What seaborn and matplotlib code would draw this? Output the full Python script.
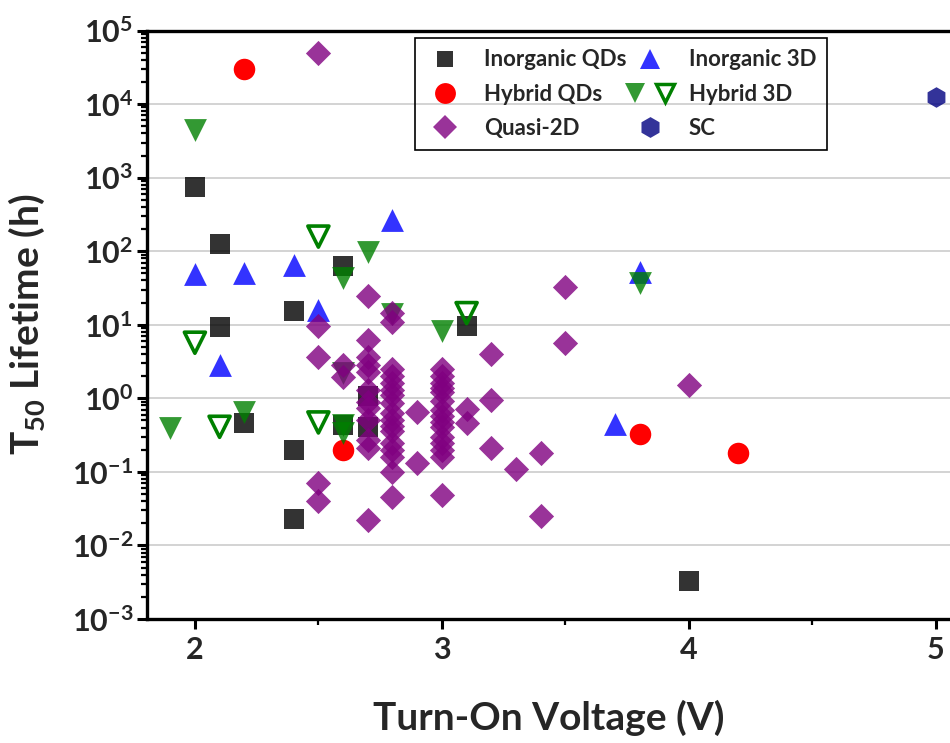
import matplotlib
matplotlib.use("Agg")
import matplotlib.pyplot as plt
import seaborn as sns
from matplotlib.legend_handler import HandlerTuple
from matplotlib.lines import Line2D
from matplotlib.ticker import LogLocator, MultipleLocator, NullFormatter

# turn-on voltage (V) and T50 lifetime (h)
inorg_qd_v = [2.0, 2.1, 2.1, 2.2, 2.4, 2.4, 2.4, 2.6, 2.6, 2.7, 2.7, 3.1, 4.0]
inorg_qd_t = [741, 126, 9.3, 0.46, 15.6, 0.20, 0.023, 62, 0.43, 1.06, 0.41, 9.5, 0.0033]

hybrid_qd_v = [2.2, 2.6, 3.8, 4.2]
hybrid_qd_t = [30000, 0.20, 0.33, 0.178]

inorg_3d_v = [2.0, 2.1, 2.2, 2.4, 2.5, 2.8, 3.7, 3.8]
inorg_3d_t = [49, 2.85, 50, 64, 15.8, 266, 0.45, 52]

hybrid_3d_v = [1.9, 2.0, 2.2, 2.6, 2.6, 2.6, 2.6, 2.7, 2.8, 3.0, 3.8]
hybrid_3d_t = [0.40, 4450, 0.66, 43, 2.2, 0.43, 0.34, 97, 14, 8.3, 37]

hybrid_3d_open_v = [2.0, 2.1, 2.5, 2.5, 3.1]
hybrid_3d_open_t = [5.7, 0.41, 158, 0.47, 14.4]

quasi_2d_v = [2.5, 2.5, 2.5, 2.5, 2.5,
              2.6, 2.6,
              2.7, 2.7, 2.7, 2.7, 2.7, 2.7, 2.7, 2.7, 2.7, 2.7, 2.7, 2.7,
              2.8, 2.8, 2.8, 2.8, 2.8, 2.8, 2.8, 2.8, 2.8, 2.8, 2.8, 2.8,
              2.8, 2.8, 2.8, 2.8, 2.8,
              2.9, 2.9,
              3.0, 3.0, 3.0, 3.0, 3.0, 3.0, 3.0, 3.0, 3.0, 3.0, 3.0, 3.0,
              3.0, 3.0, 3.0,
              3.1, 3.1,
              3.2, 3.2, 3.2,
              3.3,
              3.4, 3.4,
              3.5, 3.5,
              4.0]
quasi_2d_t = [50000, 9.5, 3.6, 0.070, 0.040,
              2.85, 1.95,
              24.7, 6.2, 3.7, 2.85, 2.3, 1.3, 0.9, 0.75, 0.5, 0.27, 0.21, 0.022,
              14.5, 11, 2.5, 2.0, 1.6, 1.3, 1.1, 0.87, 0.64, 0.5, 0.42, 0.36,
              0.25, 0.2, 0.16, 0.10, 0.046,
              0.65, 0.13,
              2.5, 2.0, 1.6, 1.4, 1.2, 0.91, 0.7, 0.57, 0.48, 0.41, 0.3, 0.25,
              0.2, 0.16, 0.049,
              0.72, 0.46,
              4.0, 0.96, 0.21,
              0.11,
              0.18, 0.025,
              33, 5.7,
              1.5]

sc_v = [5.0]
sc_t = [12500]

sns.set_style("ticks")
plt.rcParams["font.family"] = ["Lato", "DejaVu Sans"]
plt.rcParams["font.weight"] = "bold"
plt.rcParams["axes.labelweight"] = "bold"

fig = plt.figure(figsize=(9.5, 7.43), dpi=100)
ax = fig.add_axes([0.1547, 0.1669, 0.8453, 0.7920])

common = dict(ax=ax, legend=False, linewidth=0)
sns.scatterplot(x=hybrid_qd_v, y=hybrid_qd_t, marker="o", s=240, color="#ff0000", zorder=3, **common)
sns.scatterplot(x=inorg_qd_v, y=inorg_qd_t, marker="s", s=190, color="#000000", alpha=0.8, zorder=3, **common)
sns.scatterplot(x=inorg_3d_v, y=inorg_3d_t, marker="^", s=270, color="#0000ff", alpha=0.8, zorder=3, **common)
sns.scatterplot(x=hybrid_3d_v, y=hybrid_3d_t, marker="v", s=270, color="#008000", alpha=0.8, zorder=3, **common)
sns.scatterplot(x=hybrid_3d_open_v, y=hybrid_3d_open_t, marker="v", s=230, ax=ax, legend=False,
                color="#008000", facecolor="none", edgecolor="#008000", linewidth=2.6, zorder=3)
sns.scatterplot(x=quasi_2d_v, y=quasi_2d_t, marker="D", s=165, color="#800080", alpha=0.8, zorder=3, **common)
sns.scatterplot(x=sc_v, y=sc_t, marker="h", s=220, color="#000080", alpha=0.8, zorder=3, **common)

ax.set_yscale("log")
ax.set_ylim(1e-3, 1e5)
ax.set_xlim(1.806, 5.057)
ax.xaxis.set_major_locator(MultipleLocator(1))
ax.xaxis.set_minor_locator(MultipleLocator(0.5))
ax.yaxis.set_major_locator(LogLocator(base=10, numticks=20))
ax.yaxis.set_minor_locator(LogLocator(base=10, subs=[i / 10 for i in range(2, 10)], numticks=20))
ax.yaxis.set_minor_formatter(NullFormatter())

ax.yaxis.grid(True, which="major", color="#c8c8c8", linewidth=1.1)
ax.set_axisbelow(True)

for side in ["left", "bottom", "top"]:
    ax.spines[side].set_linewidth(2.4)
    ax.spines[side].set_color("black")
ax.spines["right"].set_visible(False)

ax.tick_params(axis="both", which="major", direction="out", length=7, width=2.2,
               labelsize=22, pad=3, color="black")
ax.tick_params(axis="both", which="minor", direction="out", length=4, width=1.6, color="black")
ax.tick_params(axis="x", which="major", pad=5)

ax.set_xlabel("Turn-On Voltage (V)", fontsize=28)
ax.set_ylabel("T$_\\mathdefault{50}$ Lifetime (h)", fontsize=28)
ax.xaxis.set_label_coords(0.5, -0.138)
ax.yaxis.set_label_coords(-0.125, 0.5)

handles = [
    Line2D([], [], ls="none", marker="s", markersize=12, color="#000000", alpha=0.8, markeredgewidth=0),
    Line2D([], [], ls="none", marker="o", markersize=15, color="#ff0000", markeredgewidth=0),
    Line2D([], [], ls="none", marker="D", markersize=12, color="#800080", alpha=0.8, markeredgewidth=0),
    Line2D([], [], ls="none", marker="^", markersize=15, color="#0000ff", alpha=0.8, markeredgewidth=0),
    (Line2D([], [], ls="none", marker="v", markersize=15, color="#008000", alpha=0.8, markeredgewidth=0),
     Line2D([], [], ls="none", marker="v", markersize=13, markerfacecolor="none",
            markeredgecolor="#008000", markeredgewidth=2.5)),
    Line2D([], [], ls="none", marker="h", markersize=15, color="#000080", alpha=0.8, markeredgewidth=0),
]
labels = ["Inorganic QDs", "Hybrid QDs", "Quasi-2D", "Inorganic 3D", "Hybrid 3D", "SC"]
leg = ax.legend(handles, labels, ncol=2, loc="upper left", bbox_to_anchor=(0.334, 0.987),
                fontsize=16, frameon=True, fancybox=False, framealpha=1, edgecolor="black",
                handlelength=1.7, handletextpad=0.9, columnspacing=0.2, labelspacing=0.6,
                borderpad=0.5, borderaxespad=0,
                handler_map={tuple: HandlerTuple(ndivide=None, pad=1.0)})
leg.get_frame().set_facecolor("none")
leg.get_frame().set_linewidth(1.2)

fig.savefig("out.png", dpi=100)
